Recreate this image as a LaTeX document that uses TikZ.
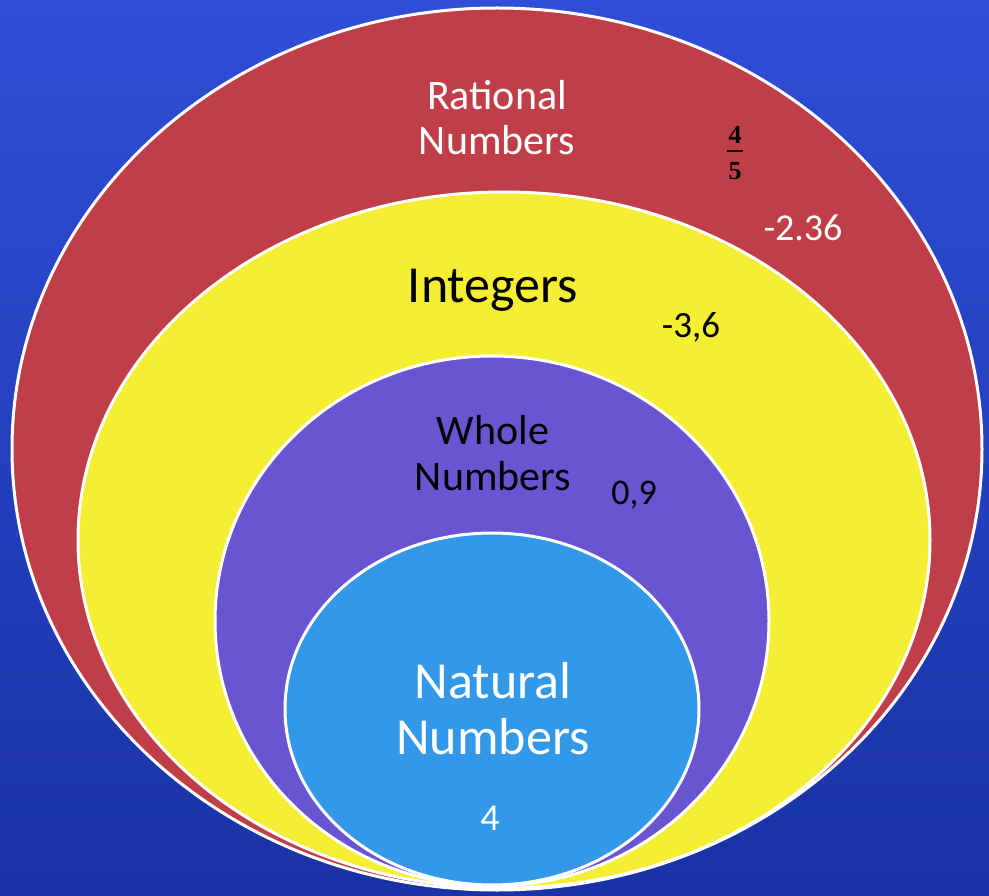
\documentclass[tikz,border=0pt]{standalone}
\usepackage{fontspec}
\setmainfont{Carlito}
\newfontfamily\fracfont{Liberation Serif}
\definecolor{bgtop}{RGB}{48,78,215}
\definecolor{bgbot}{RGB}{25,50,165}
\definecolor{redfill}{RGB}{192,62,72}
\definecolor{yelfill}{RGB}{246,238,50}
\definecolor{purfill}{RGB}{106,84,210}
\definecolor{bluefill}{RGB}{52,152,232}
\tikzset{
  setring/.style={draw=white,line width=3pt},
  lbl/.style={align=center,inner sep=0pt},
  fracdigit/.style={inner sep=0pt,font=\fracfont\bfseries\fontsize{26}{28}\selectfont},
}
\begin{document}
\begin{tikzpicture}[x=1pt,y=-1pt]
\useasboundingbox (0,0) rectangle (989,896);
\shade[top color=bgtop,bottom color=bgbot] (0,0) rectangle (989,896);
\draw[setring,fill=redfill] (497,449) ellipse [x radius=485,y radius=441];
\draw[setring,fill=yelfill] (504,540) ellipse [x radius=426,y radius=348];
\draw[setring,fill=purfill] (492,621) ellipse [x radius=277,y radius=265];
\draw[setring,fill=bluefill] (492,709) ellipse [x radius=207,y radius=176];
\node[lbl,text=white,font=\fontsize{42}{45}\selectfont] (rat) at (497,118) {Rational\\Numbers};
\node[fracdigit] (num) at (735,135) {4};
\node[fracdigit] (den) at (735,171) {5};
\coordinate (barl) at (727,151);
\coordinate (barr) at (743,151);
\draw[line width=2pt] (barl) -- (barr);
\node[lbl,text=white,font=\fontsize{38}{40}\selectfont] (r1) at (803,228) {-2.36};
\node[lbl,font=\fontsize{52}{56}\selectfont] (int) at (493,290) {Integers};
\node[lbl,font=\fontsize{37}{40}\selectfont] (i1) at (691,327) {-3,6};
\node[lbl,font=\fontsize{42}{46}\selectfont] (who) at (493,453) {Whole\\Numbers};
\node[lbl,font=\fontsize{36}{40}\selectfont] (w1) at (634,495) {0,9};
\node[lbl,text=white,font=\fontsize{52}{56}\selectfont] (nat) at (493,709) {Natural\\Numbers};
\node[lbl,text=white,font=\fontsize{38}{40}\selectfont] (n1) at (490,818) {4};
\end{tikzpicture}
\end{document}
